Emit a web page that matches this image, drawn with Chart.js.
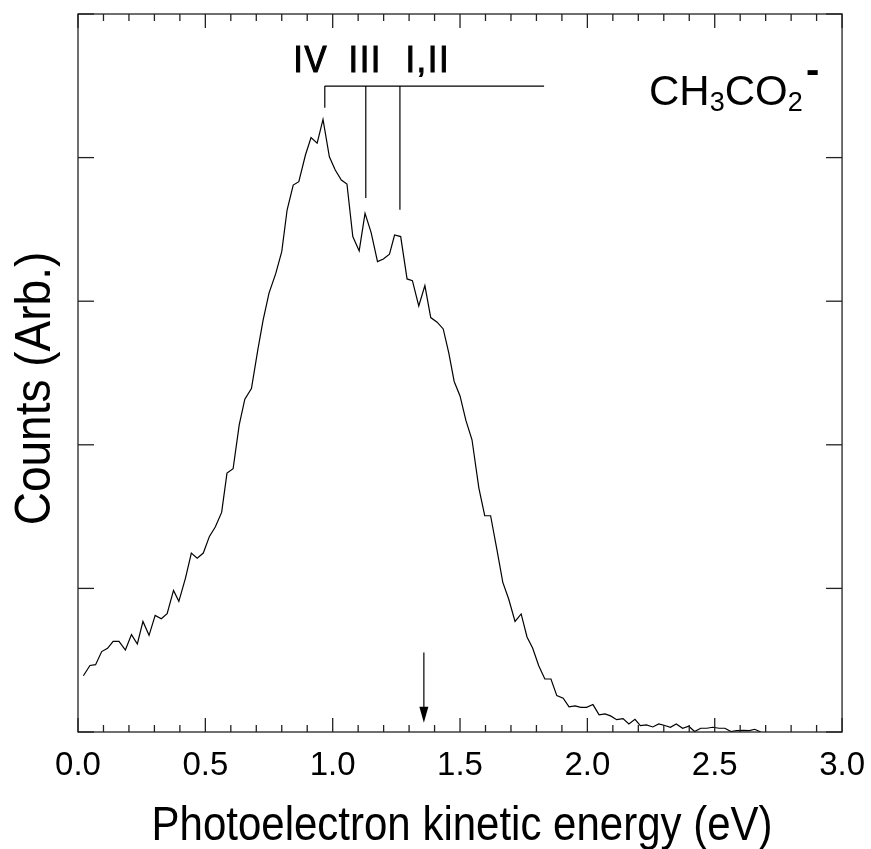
<!DOCTYPE html>
<html><head><meta charset="utf-8">
<script src="https://cdn.jsdelivr.net/npm/chart.js@4.4.0/dist/chart.umd.min.js"></script>
<style>html,body{margin:0;padding:0;background:#fff}</style>
</head><body>
<canvas id="c" width="871" height="849"></canvas>
<script>
// ---- data ----
const energy = [
 0.021,0.047,0.069,0.093,0.116,0.138,0.161,0.186,0.210,0.233,
 0.255,0.279,0.303,0.327,0.350,0.375,0.396,0.422,0.445,0.468,
 0.492,0.516,0.539,0.564,0.585,0.609,
 0.633,0.655,0.681,0.706,0.727,0.750,0.776,0.800,0.821,0.845,
 0.867,0.893,0.915,0.939,0.962,0.987,1.010,1.034,1.056,1.079,
 1.104,1.127,1.151,1.176,1.199,1.223,1.243,1.267,1.292,1.313,
 1.338,1.362,1.385,1.410,1.434,1.456,1.477,1.500,1.523,1.547,
 1.574,1.597,1.620,1.645,1.668,1.691,1.716,1.740,1.763,1.785,
 1.809,1.833,1.857,1.880,1.905,1.928,1.952,1.974,1.997,2.022,
 2.046,2.069,2.091,2.115,2.140,2.163,2.187,2.208,2.232,2.257,
 2.280,2.304,2.326,2.349,2.374,2.398,2.421,2.445,2.469,2.492,
 2.517,2.540,2.564,2.586,2.612,2.636,2.657,2.681
];
const counts = [
 0.392,0.463,0.469,0.560,0.583,0.631,0.631,0.571,0.678,0.613,
 0.770,0.673,0.812,0.789,0.824,0.986,0.910,1.072,1.246,1.211,
 1.246,1.362,1.427,1.529,1.803,1.833,
 2.139,2.318,2.392,2.661,2.870,3.056,3.190,3.345,3.635,3.809,
 3.832,4.018,4.139,4.100,4.266,4.006,3.914,3.844,3.816,3.450,
 3.350,3.612,3.478,3.276,3.294,3.327,3.461,3.450,3.155,3.143,
 2.967,3.109,2.886,2.854,2.807,2.638,2.441,2.340,2.170,2.035,
 1.699,1.506,1.506,1.269,1.042,0.926,0.770,0.822,0.662,0.585,
 0.462,0.369,0.369,0.253,0.235,0.175,0.182,0.172,0.172,0.191,
 0.119,0.126,0.112,0.086,0.093,0.056,0.088,0.045,0.049,0.035,
 0.056,0.045,0.033,0.056,0.026,0.040,0.003,0.026,0.026,0.033,
 0.026,0.026,0.003,0.010,0.012,0.010,0.019,0.000
];
const xTickLabels = ['0.0','0.5','1.0','1.5','2.0','2.5','3.0'];
const xMinorTicks = [0,0.1,0.2,0.3,0.4,0.5,0.6,0.7,0.8,0.9,1.0,1.1,1.2,1.3,1.4,1.5,1.6,1.7,1.8,1.9,2.0,2.1,2.2,2.3,2.4,2.5,2.6,2.7,2.8,2.9,3.0];
const yTicks = [0,1,2,3,4,5];
const xTitle = 'Photoelectron kinetic energy (eV)';
const yTitle = 'Counts (Arb.)';
// vibrational comb: labels, energies (eV), lower ends (counts)
const combLabels = ['IV','III','I,II'];
const combEnergy = [0.969, 1.130, 1.264];
const combBottom = [4.347, 3.719, 3.636];
const combTop = 4.498;
const combEnd = 1.830;
// arrow marker
const arrowEnergy = 1.358;
const arrowFrom = 0.553, arrowTo = 0.065;

const FONT = "'Liberation Sans', Arial, Helvetica, sans-serif";

const decor = {
  id: 'decor',
  afterDraw(chart) {
    const {ctx, chartArea: a, scales: {x, y}} = chart;
    const line = (x1, y1, x2, y2) => { ctx.beginPath(); ctx.moveTo(x1, y1); ctx.lineTo(x2, y2); ctx.stroke(); };
    ctx.save();
    ctx.strokeStyle = '#222';
    ctx.lineWidth = 1.3;
    ctx.strokeRect(a.left, a.top, a.right - a.left, a.bottom - a.top);
    xMinorTicks.forEach((v, i) => {
      const px = x.getPixelForValue(v);
      const len = (i % 5 === 0) ? 14 : 7;
      line(px, a.bottom, px, a.bottom - len);
      line(px, a.top, px, a.top + len);
    });
    yTicks.forEach(v => {
      const py = y.getPixelForValue(v);
      line(a.left, py, a.left + 16, py);
      line(a.right, py, a.right - 16, py);
    });
    // comb
    ctx.strokeStyle = '#000';
    ctx.lineWidth = 1.2;
    const ty = y.getPixelForValue(combTop);
    line(x.getPixelForValue(combEnergy[0]), ty, x.getPixelForValue(combEnd), ty);
    combEnergy.forEach((e, i) => {
      const px = x.getPixelForValue(e);
      line(px, ty, px, y.getPixelForValue(combBottom[i]));
    });
    ctx.fillStyle = '#000';
    ctx.font = '33px ' + FONT;
    ctx.textAlign = 'center';
    ctx.textBaseline = 'alphabetic';
    ctx.letterSpacing = '2px';
    ctx.lineWidth = 1.1;
    const labX = [311, 365.5, 428];
    combLabels.forEach((t, i) => {
      ctx.save();
      ctx.translate(labX[i], 72);
      ctx.scale(1, 1.1);
      ctx.fillText(t, 0, 0);
      ctx.strokeText(t, 0, 0);
      ctx.restore();
    });
    ctx.letterSpacing = '0px';
    // arrow
    ctx.lineWidth = 1.2;
    const ax = x.getPixelForValue(arrowEnergy);
    const ay1 = y.getPixelForValue(arrowFrom), ay2 = y.getPixelForValue(arrowTo);
    line(ax, ay1, ax, ay2 - 10);
    ctx.beginPath(); ctx.moveTo(ax - 4.5, ay2 - 16); ctx.lineTo(ax + 4.5, ay2 - 16); ctx.lineTo(ax, ay2); ctx.closePath(); ctx.fill();
    // species label CH3CO2-
    ctx.textAlign = 'left';
    let cx = 649;
    const big = '42px ' + FONT, small = '27px ' + FONT;
    const part = (t, f, by) => { ctx.font = f; ctx.fillText(t, cx, by); cx += ctx.measureText(t).width; };
    part('CH', big, 105);
    part('3', small, 111);
    part('CO', big, 105);
    part('2', small, 111);
    ctx.font = 'bold 40px ' + FONT;
    ctx.fillText('-', 806, 83);
    // axis titles (slightly tall, narrow face as in the original)
    ctx.textAlign = 'center';
    ctx.textBaseline = 'alphabetic';
    ctx.font = '42px ' + FONT;
    ctx.save();
    ctx.translate((x.left + x.right) / 2 + 2, 840);
    ctx.scale(1, 1.15);
    ctx.fillText(xTitle, 0, 0);
    ctx.restore();
    ctx.font = '46px ' + FONT;
    ctx.save();
    ctx.translate(50, 388.5);
    ctx.rotate(-Math.PI / 2);
    ctx.scale(1, 1.1);
    ctx.fillText(yTitle, 0, 0);
    ctx.restore();
    ctx.restore();
  }
};

new Chart(document.getElementById('c'), {
  type: 'line',
  data: {
    datasets: [{
      data: energy.map((e, i) => ({x: e, y: counts[i]})),
      borderColor: '#000',
      borderWidth: 1.2,
      pointRadius: 0,
      tension: 0,
      fill: false
    }]
  },
  options: {
    responsive: false,
    animation: false,
    events: [],
    layout: {padding: {top: 14, right: 24, left: 0, bottom: 0}},
    plugins: {legend: {display: false}, tooltip: {enabled: false}},
    scales: {
      x: {
        type: 'linear', min: 0, max: 3,
        grid: {display: false}, border: {display: false},
        afterBuildTicks: s => { s.ticks = xTickLabels.map(t => ({value: parseFloat(t)})); },
        ticks: {
          color: '#000', padding: 6, maxRotation: 0, autoSkip: false,
          font: {family: FONT, size: 33},
          callback: v => xTickLabels.find(t => parseFloat(t) === v)
        },
        title: {display: false, text: xTitle},
        afterFit: s => { s.height = 117; }
      },
      y: {
        type: 'linear', min: 0, max: 5,
        grid: {display: false}, border: {display: false},
        ticks: {display: false},
        title: {display: false, text: yTitle},
        afterFit: s => { s.width = 78; }
      }
    }
  },
  plugins: [decor]
});
</script>
</body></html>
